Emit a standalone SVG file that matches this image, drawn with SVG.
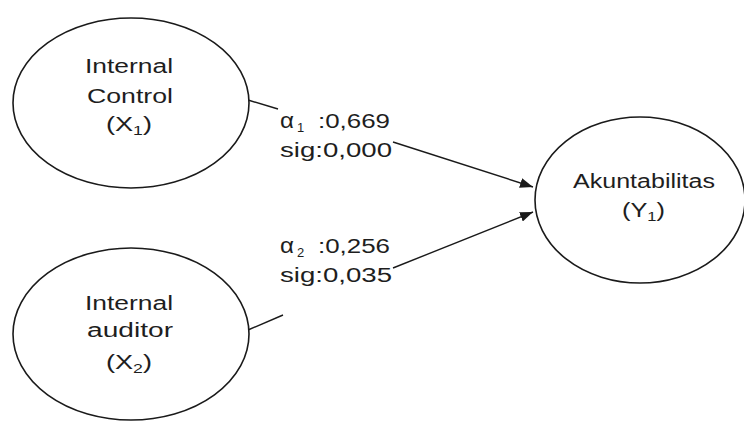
<svg xmlns="http://www.w3.org/2000/svg" width="744" height="421" viewBox="0 0 744 421">
  <style>
    .node { fill: #ffffff; stroke: #1a1a1a; stroke-width: 1.6; }
    .lbl { font-family: "Liberation Sans", Arial, sans-serif; font-size: 20px; fill: #1e1e1e; }
    .sub { font-size: 13px; }
    .alpha { font-size: 22px; }
    .edge { stroke: #1a1a1a; stroke-width: 1.4; fill: none; }
  </style>
  <defs>
    <marker id="arrow" markerUnits="userSpaceOnUse" markerWidth="13" markerHeight="10" refX="13" refY="5" orient="auto">
      <path d="M0,0 L13,5 L0,10 z" fill="#1a1a1a"/>
    </marker>
  </defs>
  <rect width="744" height="421" fill="#ffffff"/>

  <g id="connectors">
    <line class="edge" x1="248" y1="100" x2="278" y2="109"/>
    <line class="edge" x1="393" y1="142" x2="533" y2="187" marker-end="url(#arrow)"/>
    <line class="edge" x1="248" y1="330" x2="283" y2="315"/>
    <line class="edge" x1="393" y1="268" x2="533" y2="212" marker-end="url(#arrow)"/>
    <g id="label-x1">
      <text class="lbl alpha" x="280" y="128" textLength="14" lengthAdjust="spacingAndGlyphs">α</text>
      <text class="lbl sub" x="297" y="132">1</text>
      <text class="lbl" x="318" y="128" textLength="72" lengthAdjust="spacingAndGlyphs">:0,669</text>
      <text class="lbl" x="280" y="157" textLength="112" lengthAdjust="spacingAndGlyphs">sig:0,000</text>
    </g>
    <g id="label-x2">
      <text class="lbl alpha" x="280" y="253" textLength="14" lengthAdjust="spacingAndGlyphs">α</text>
      <text class="lbl sub" x="297" y="257">2</text>
      <text class="lbl" x="318" y="253" textLength="72" lengthAdjust="spacingAndGlyphs">:0,256</text>
      <text class="lbl" x="280" y="282" textLength="112" lengthAdjust="spacingAndGlyphs">sig:0,035</text>
    </g>
  </g>

  <g id="node-x1">
    <ellipse class="node" cx="131" cy="103" rx="118" ry="85"/>
    <text class="lbl" x="85" y="73" textLength="88" lengthAdjust="spacingAndGlyphs">Internal</text>
    <text class="lbl" x="87" y="103" textLength="86" lengthAdjust="spacingAndGlyphs">Control</text>
    <text class="lbl" x="106" y="131" textLength="46" lengthAdjust="spacingAndGlyphs">(X<tspan class="sub" dy="4">1</tspan><tspan dy="-4">)</tspan></text>
  </g>

  <g id="node-x2">
    <ellipse class="node" cx="131" cy="334" rx="118" ry="86"/>
    <text class="lbl" x="85" y="310" textLength="88" lengthAdjust="spacingAndGlyphs">Internal</text>
    <text class="lbl" x="87" y="337" textLength="86" lengthAdjust="spacingAndGlyphs">auditor</text>
    <text class="lbl" x="106" y="369" textLength="46" lengthAdjust="spacingAndGlyphs">(X<tspan class="sub" dy="4">2</tspan><tspan dy="-4">)</tspan></text>
  </g>

  <g id="node-y1">
    <ellipse class="node" cx="640" cy="200" rx="105" ry="83"/>
    <text class="lbl" x="573" y="188" textLength="142" lengthAdjust="spacingAndGlyphs">Akuntabilitas</text>
    <text class="lbl" x="622" y="217" textLength="43" lengthAdjust="spacingAndGlyphs">(Y<tspan class="sub" dy="4">1</tspan><tspan dy="-4">)</tspan></text>
  </g>
</svg>
